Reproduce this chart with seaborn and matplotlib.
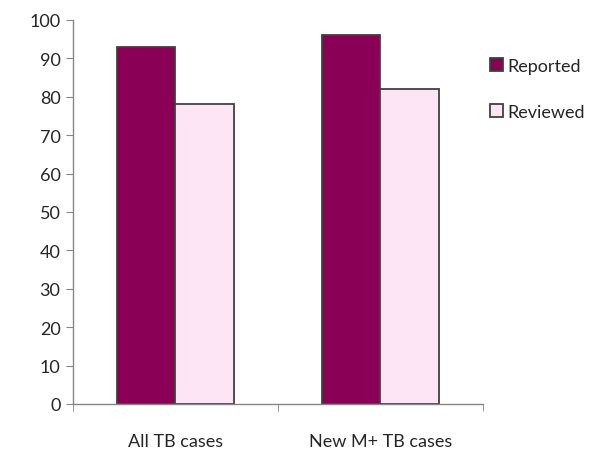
import matplotlib
matplotlib.use("Agg")
import matplotlib.pyplot as plt
import seaborn as sns
import pandas as pd

categories = ["All TB cases", "New M+ TB cases"]
series = ["Reported", "Reviewed"]
reported = [93, 96]
reviewed = [78, 82]
yticks = list(range(0, 101, 10))

df = pd.DataFrame({
    "category": categories * 2,
    "series": [series[0]] * 2 + [series[1]] * 2,
    "value": reported + reviewed,
})

sns.set_style("white")
plt.rcParams["font.family"] = ["Lato", "DejaVu Sans"]

fig = plt.figure(figsize=(6.16, 4.56), dpi=100)
ax = fig.add_axes([0.1185, 0.112, 0.665, 0.842])

sns.barplot(data=df, x="category", y="value", hue="series",
            palette=["#8B0057", "#FDE5F5"], width=0.57, saturation=1,
            edgecolor="#404040", linewidth=1.3, ax=ax, legend=True)

ax.set_xlim(-0.5, 1.5)
ax.set_ylim(0, 100)
ax.set_yticks(yticks)
ax.set_yticklabels([str(v) for v in yticks], fontsize=13)
ax.set_xlabel("")
ax.set_ylabel("")
ax.tick_params(axis="x", which="major", length=0, labelsize=13, pad=21)
ax.set_xticks([-0.5, 0.5, 1.5], minor=True)
ax.tick_params(axis="x", which="minor", length=5, color="#868686", direction="out", bottom=True)
ax.tick_params(axis="y", length=5, color="#868686", direction="out", left=True, pad=4)
for s in ["top", "right"]:
    ax.spines[s].set_visible(False)
for s in ["left", "bottom"]:
    ax.spines[s].set_color("#868686")
    ax.spines[s].set_linewidth(1)

leg = ax.legend(loc="upper left", bbox_to_anchor=(1.0, 0.92), frameon=False,
                fontsize=13, handlelength=0.75, handleheight=0.75,
                handletextpad=0.2, labelspacing=1.65, borderaxespad=0)

fig.savefig("out.png", dpi=100)
